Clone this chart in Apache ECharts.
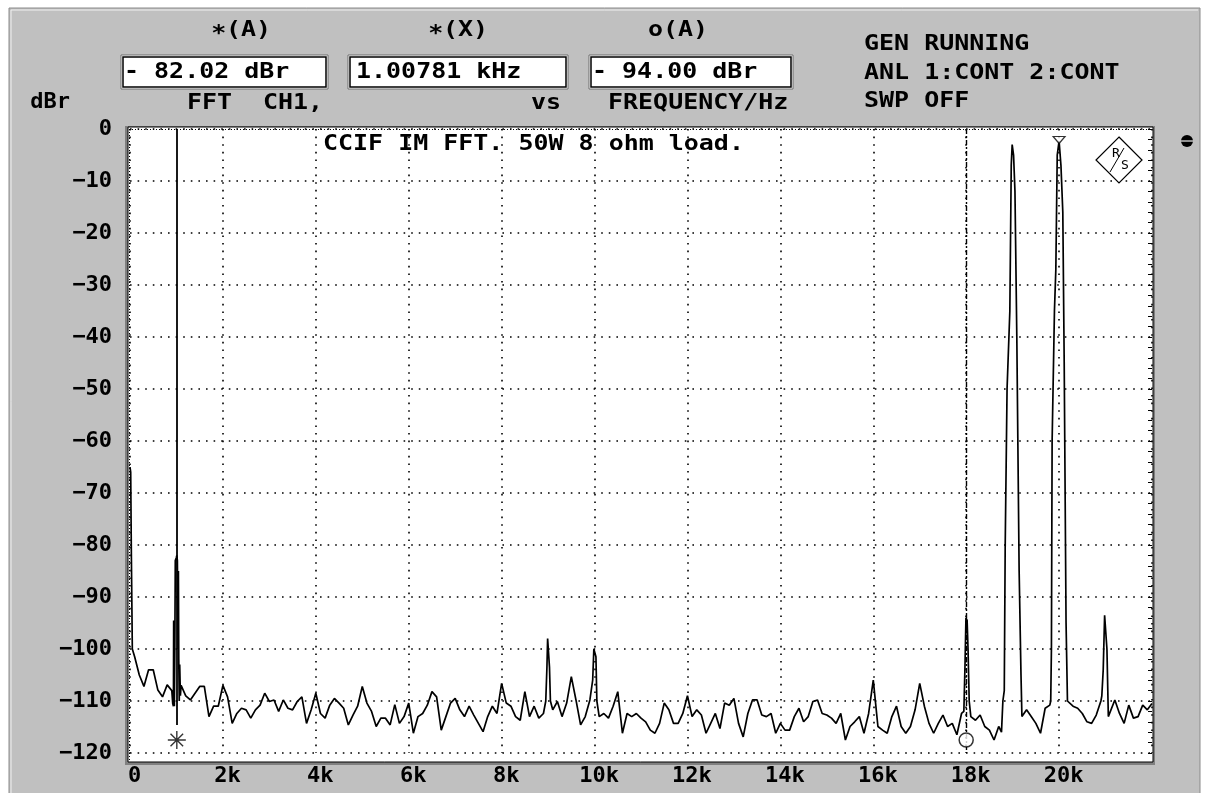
<!DOCTYPE html>
<html><head><meta charset="utf-8">
<script src="https://cdn.jsdelivr.net/npm/echarts@6/dist/echarts.min.js"></script>
<style>html,body{margin:0;padding:0;background:#fff}#c{width:1210px;height:793px}</style>
</head><body><div id="c"></div>
<script>
// ---- data ----
const noiseStepHz = 100; // noise floor sampled every 100 Hz, 0 .. 22 kHz
const noiseLevels = [
 -65,-101.5,-105,-107.2,-104,-104,-107.9,-109.2,-106.9,-108,
 -82,-107,-109,-109.8,-108.5,-107.2,-107.2,-113,-111,-111,
 -107,-109.2,-114.3,-112.4,-111.4,-111.7,-113.3,-111.7,-110.8,-108.5,
 -110.1,-109.8,-112,-109.8,-111.4,-111.7,-110.1,-109.2,-114.3,-111.7,
 -108.5,-112.4,-113.3,-110.8,-109.5,-110.4,-111.4,-114.6,-112.7,-111,
 -107.2,-110.4,-112,-114.9,-113.3,-113.3,-114.6,-110.7,-114.3,-113,
 -110.4,-116.2,-113,-112.4,-110.8,-108.2,-109.2,-115.6,-113,-110.4,
 -109.5,-111.7,-113,-111,-112.7,-114.3,-115.9,-113,-111,-112.4,
 -106.6,-110.4,-111,-113,-113.7,-108.2,-113,-111,-113.3,-112.4,
 -98,-111.7,-110.1,-113,-110.4,-105.3,-109.8,-114.6,-113,-109.8,
 -100,-113,-112.4,-113.3,-111,-108.2,-116.2,-112.4,-113,-112.4,
 -113.3,-114,-115.6,-116.2,-114.3,-110.4,-111.7,-114.3,-114.3,-112.4,
 -109,-113,-111.7,-112.7,-116.2,-114.3,-112.4,-115.3,-110.4,-110.8,
 -109.5,-114.3,-116.9,-112.4,-109.8,-109.8,-112.7,-113,-112.4,-116.2,
 -114.3,-115.6,-115.6,-113,-111.4,-114,-113,-110.1,-109.8,-112.4,
 -112.7,-113.3,-114.3,-112.4,-117.5,-114.9,-114,-113,-116.2,-112.4,
 -106,-114.9,-115.6,-116.2,-113,-111,-114.9,-116.2,-114.9,-111.7,
 -106.6,-111,-114.3,-116.2,-114.3,-112.7,-114.9,-114.3,-116.5,-112.4,
 -94,-113,-113.7,-112.7,-114.9,-115.6,-117.5,-114.9,-116.5,-60,
 -3,-40,-113.7,-111.7,-113,-114.3,-116.2,-111.4,-110.8,-60,
 -2.5,-60,-109.8,-111,-111.4,-112.4,-114,-114.3,-112.7,-110,
 -93.5,-113,-109.8,-112.4,-114.3,-110.8,-113.3,-113,-110.8,-111.7,
 -110.5
];
// detailed shapes of the discrete lines [Hz, dBr]
const dcPeak  = [[0,-65],[15,-66],[30,-82.5],[50,-100]];
const peak1k  = [[920,-110.5],[935,-111],[940,-94.5],[950,-94.5],[955,-111],[965,-100],[975,-83],[995,-82.5],[1008,-82],[1020,-83],[1035,-100],[1042,-85],[1050,-102],[1060,-110],[1070,-103],[1085,-109]];
const peak9k  = [[8950,-110],[8975,-103.5],[8990,-98],[9010,-98],[9030,-103.5],[9050,-110]];
const peak10k = [[9960,-106],[9985,-100],[10010,-100],[10030,-101.5],[10050,-110]];
const peak18k = [[17950,-112],[17975,-103],[17995,-94],[18020,-94.5],[18040,-100],[18065,-110]];
const peak19k = [[18760,-116],[18790,-110],[18820,-108],[18840,-80],[18880,-50],[18940,-35],[18970,-7],[18990,-3],[19020,-5],[19050,-12],[19090,-40],[19140,-85],[19180,-105],[19200,-113]];
const peak20k = [[19820,-110],[19835,-100],[19850,-60],[19900,-35],[19930,-27],[19960,-5],[20000,-2.3],[20040,-7],[20080,-16],[20110,-45],[20150,-95],[20180,-110]];
const peak21k = [[20920,-109],[20950,-104],[20980,-93.5],[21010,-93.5],[21030,-100],[21060,-113]];

const cursorA = [1007.81, -82.02];   // *(A) / *(X)
const cursorO = [18000, -94.00];     // o(A)
const xTickStep = 2000, xMax = 22000;
const yTickStep = 10, yMin = -120, yMax = 0;

// ---- build the trace ----
const peaks = [dcPeak, peak1k, peak9k, peak10k, peak18k, peak19k, peak20k, peak21k];
const trace = [];
noiseLevels.forEach((v, i) => {
  const f = i * noiseStepHz;
  if (!peaks.some(p => f >= p[0][0] && f <= p[p.length - 1][0])) trace.push([f, v]);
});
peaks.forEach(p => p.forEach(q => trace.push(q)));
trace.sort((a, b) => a[0] - b[0]);

const MONO = '"DejaVu Sans Mono", monospace';
const SX = 1.135;
function txt(t, x, y, align) {
  return { type: 'text', x: x, y: y, scaleX: SX, z: 20,
    style: { text: t, font: 'bold 22px ' + MONO, fill: '#000',
      textAlign: align || 'left', textVerticalAlign: 'middle' } };
}
function box(x, y, w, h) {
  return { type: 'group', z: 5, children: [
    { type: 'rect', shape: { x: x - 2, y: y - 2, width: w + 4, height: h + 4 }, style: { fill: '#fff', stroke: '#6e6e6e', lineWidth: 1 } },
    { type: 'rect', shape: { x: x, y: y, width: w, height: h }, style: { fill: '#fff', stroke: '#000', lineWidth: 1.5 } }
  ]};
}

const chart = echarts.init(document.getElementById('c'), null, { renderer: 'canvas' });
chart.setOption({
  backgroundColor: '#ffffff',
  animation: false,
  grid: { left: 130, right: 58, top: 129, bottom: 40 },
  xAxis: {
    type: 'value', min: 0, max: xMax, interval: xTickStep,
    axisLine: { show: false }, axisTick: { show: false },
    splitLine: { show: true, lineStyle: { color: '#000', type: [1.6, 6], width: 1.6 } },
    axisLabel: {
      margin: 12, color: '#000', fontFamily: MONO, fontWeight: 'bold', fontSize: 22,
      padding: [0, 0, 0, 9],
      formatter: v => v === 0 ? '0' : (v >= xMax ? '' : (v / 1000) + 'k')
    }
  },
  yAxis: [{
    type: 'value', min: yMin, max: yMax, interval: yTickStep,
    axisLine: { show: false }, axisTick: { show: false },
    splitLine: { show: true, lineStyle: { color: '#000', type: [1.6, 6], width: 1.6 } },
    axisLabel: {
      margin: 18, color: '#000', fontFamily: MONO, fontWeight: 'bold', fontSize: 22,
      formatter: v => v === 0 ? '0' : '\u2212' + Math.abs(v)
    },
    name: 'dBr', nameLocation: 'end', nameGap: 27,
    nameTextStyle: { color: '#000', fontFamily: MONO, fontWeight: 'bold', fontSize: 22,
      align: 'right', verticalAlign: 'middle', padding: [0, 60, 0, 0] }
  }, {
    type: 'value', position: 'right', min: yMin, max: yMax, interval: 2,
    axisLine: { show: false }, axisLabel: { show: false }, splitLine: { show: false },
    axisTick: { show: true, inside: true, length: 4, lineStyle: { color: '#000', width: 1 } }
  }],
  series: [{
    type: 'line', data: trace, showSymbol: false, symbol: 'none',
    lineStyle: { color: '#000', width: 1.7 }, z: 5,
    markLine: {
      silent: true, symbol: 'none', label: { show: false },
      data: [
        [{ coord: [cursorA[0], 0], lineStyle: { type: 'solid', width: 1.8, color: '#000' } },
         { coord: [cursorA[0], -114.6] }],
        [{ coord: [cursorO[0], 0], lineStyle: { type: [5, 2, 2, 2], width: 1.4, color: '#000' } },
         { coord: [cursorO[0], -120] }]
      ]
    }
  }, {
    type: 'scatter', z: 8, silent: true,
    data: [[cursorA[0], -117.5]],
    symbol: 'path://M10,0 L10,20 M0,10 L20,10 M3,3 L17,17 M17,3 L3,17',
    symbolSize: 18,
    itemStyle: { color: 'rgba(0,0,0,0)', borderColor: '#000', borderWidth: 1.4 }
  }, {
    type: 'scatter', z: 8, silent: true,
    data: [[cursorO[0], -117.5]],
    symbol: 'circle', symbolSize: 14,
    itemStyle: { color: '#fff', borderColor: '#000', borderWidth: 1.5 }
  }, {
    type: 'scatter', z: 8, silent: true,
    data: [[20000, -2.1]],
    symbol: 'path://M0,0 L12,0 L6,7 Z', symbolSize: [12, 7],
    itemStyle: { color: '#fff', borderColor: '#000', borderWidth: 1.2 }
  }],
  graphic: [
    // instrument panel
    { type: 'rect', z: -20, shape: { x: 9, y: 8, width: 1191, height: 790 }, style: { fill: '#c0c0c0', stroke: '#8a8a8a', lineWidth: 1 } },
    { type: 'line', z: -19, shape: { x1: 11, y1: 10, x2: 1198, y2: 10 }, style: { stroke: '#f0f0f0', lineWidth: 1 } },
    { type: 'line', z: -19, shape: { x1: 11, y1: 10, x2: 11, y2: 793 }, style: { stroke: '#f0f0f0', lineWidth: 1 } },
    // plot area
    { type: 'rect', z: -10, shape: { x: 125, y: 126, width: 1030, height: 639 }, style: { fill: '#808080' } },
    { type: 'rect', z: -9, shape: { x: 128, y: 127, width: 1025, height: 635 }, style: { fill: '#fff', stroke: '#000', lineWidth: 1 } },
    { type: 'line', z: 1, shape: { x1: 129, y1: 129.5, x2: 1152, y2: 129.5 }, style: { stroke: '#000', lineWidth: 1, lineDash: [1, 2] } },
    { type: 'line', z: 1, shape: { x1: 129.5, y1: 129, x2: 129.5, y2: 761 }, style: { stroke: '#000', lineWidth: 1, lineDash: [1, 2] } },
    // headers
    txt('\u2217(A)', 241, 30, 'center'),
    txt('\u2217(X)', 458, 30, 'center'),
    txt('o(A)', 678, 30, 'center'),
    box(123, 57, 203, 30), txt('- 82.02 dBr', 124, 72),
    box(350, 57, 216, 30), txt('1.00781 kHz', 356, 72),
    box(591, 57, 200, 30), txt('- 94.00 dBr', 592, 72),
    txt('FFT', 187, 103), txt('CH1,', 263, 103), txt('vs', 531, 103), txt('FREQUENCY/Hz', 608, 103),
    txt('GEN RUNNING', 864, 44), txt('ANL 1:CONT 2:CONT', 864, 73), txt('SWP OFF', 864, 101),
    txt('CCIF IM FFT. 50W 8 ohm load.', 323, 144),
    // R&S logo
    { type: 'polygon', z: 20, shape: { points: [[1119, 137], [1142, 160], [1119, 183], [1096, 160]] }, style: { fill: '#fff', stroke: '#000', lineWidth: 1.2 } },
    { type: 'text', z: 21, x: 1116, y: 154, style: { text: 'R', font: '13px ' + MONO, fill: '#000', textAlign: 'center', textVerticalAlign: 'middle' } },
    { type: 'text', z: 21, x: 1125, y: 166, style: { text: 'S', font: '13px ' + MONO, fill: '#000', textAlign: 'center', textVerticalAlign: 'middle' } },
    { type: 'line', z: 21, shape: { x1: 1110, y1: 172, x2: 1124, y2: 148 }, style: { stroke: '#000', lineWidth: 1 } },
    // side icon
    { type: 'circle', z: 20, shape: { cx: 1187, cy: 141, r: 6 }, style: { fill: '#000' } },
    { type: 'line', z: 21, shape: { x1: 1181, y1: 141, x2: 1193, y2: 141 }, style: { stroke: '#c0c0c0', lineWidth: 1.5 } }
  ]
});
</script></body></html>
